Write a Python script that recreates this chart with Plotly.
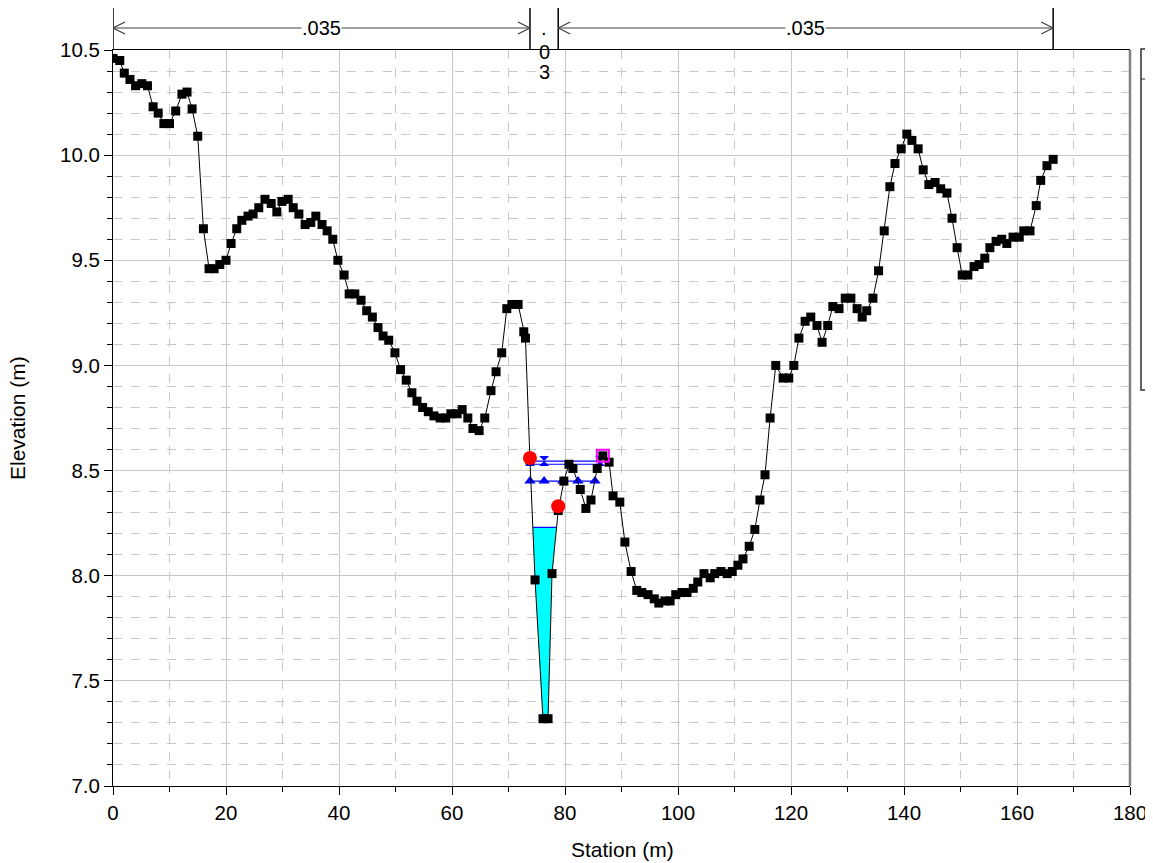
import plotly.graph_objects as go

# ---------------- data ----------------
station = [0, 1.2, 2, 3, 4, 5.1, 6.1, 7.1, 8, 9,
           10, 11.1, 12.2, 13.1, 14, 15, 16, 17, 17.9, 18.9,
           20, 20.9, 21.9, 22.8, 23.9, 24.8, 25.8, 26.9, 28, 29,
           29.9, 31, 31.9, 32.9, 34, 35, 35.9, 37, 37.9, 38.9,
           39.8, 40.9, 41.8, 42.8, 43.9, 44.9, 45.9, 46.9, 47.8, 48.8,
           49.9, 50.9, 51.9, 52.9, 53.8, 54.8, 55.8, 56.8, 57.9, 58.9,
           59.8, 60.9, 61.8, 62.8, 63.7, 64.8, 65.8, 66.9, 67.8, 68.8,
           69.7, 70.6, 71.7, 72.7, 73.0, 73.8, 74.7, 76.1, 77.0, 77.7,
           78.8, 79.8, 80.7, 81.4, 82.7, 83.7, 84.6, 85.7, 86.7, 87.8,
           88.5, 89.7, 90.6, 91.7, 92.7, 93.6, 94.7, 95.8, 96.6, 97.7,
           98.6, 99.6, 100.7, 101.6, 102.7, 103.5, 104.6, 105.7, 106.5, 107.6,
           108.7, 109.6, 110.6, 111.5, 112.6, 113.6, 114.5, 115.4, 116.3, 117.3,
           118.6, 119.6, 120.5, 121.4, 122.5, 123.5, 124.6, 125.5, 126.5, 127.4,
           128.5, 129.6, 130.6, 131.7, 132.6, 133.4, 134.5, 135.5, 136.5, 137.5,
           138.4, 139.5, 140.5, 141.4, 142.5, 143.4, 144.4, 145.5, 146.5, 147.6,
           148.5, 149.4, 150.3, 151.3, 152.4, 153.3, 154.3, 155.2, 156.3, 157.3,
           158.2, 159.3, 160.4, 161.2, 162.3, 163.4, 164.2, 165.3, 166.4]
elevation = [10.46, 10.45, 10.39, 10.36, 10.33, 10.34, 10.33, 10.23, 10.20, 10.15,
             10.15, 10.21, 10.29, 10.30, 10.22, 10.09, 9.65, 9.46, 9.46, 9.48,
             9.50, 9.58, 9.65, 9.69, 9.71, 9.72, 9.75, 9.79, 9.77, 9.73,
             9.78, 9.79, 9.75, 9.72, 9.67, 9.68, 9.71, 9.67, 9.64, 9.60,
             9.50, 9.43, 9.34, 9.34, 9.31, 9.26, 9.23, 9.18, 9.14, 9.12,
             9.06, 8.98, 8.93, 8.87, 8.83, 8.80, 8.78, 8.76, 8.75, 8.75,
             8.77, 8.77, 8.79, 8.75, 8.70, 8.69, 8.75, 8.88, 8.97, 9.06,
             9.27, 9.29, 9.29, 9.16, 9.13, 8.55, 7.98, 7.32, 7.32, 8.01,
             8.31, 8.45, 8.53, 8.51, 8.41, 8.32, 8.36, 8.51, 8.57, 8.54,
             8.38, 8.35, 8.16, 8.02, 7.93, 7.92, 7.91, 7.89, 7.87, 7.88,
             7.88, 7.91, 7.92, 7.92, 7.94, 7.97, 8.01, 7.99, 8.01, 8.02,
             8.01, 8.02, 8.05, 8.08, 8.14, 8.22, 8.36, 8.48, 8.75, 9.00,
             8.94, 8.94, 9.00, 9.13, 9.21, 9.23, 9.19, 9.11, 9.19, 9.28,
             9.27, 9.32, 9.32, 9.27, 9.23, 9.26, 9.32, 9.45, 9.64, 9.85,
             9.96, 10.03, 10.10, 10.07, 10.03, 9.93, 9.86, 9.87, 9.84, 9.82,
             9.70, 9.56, 9.43, 9.43, 9.47, 9.48, 9.51, 9.56, 9.59, 9.60,
             9.58, 9.61, 9.61, 9.64, 9.64, 9.76, 9.88, 9.95, 9.98]

bank_station = [73.8, 78.8]
bank_elev = [8.56, 8.33]
levee_station = [86.7]
levee_elev = [8.57]

ws_fill = 8.23                      # water surface filling the channel
ws_tri_station = [73.8, 76.3, 79.6, 82.3, 85.3]
ws_tri_elev = [8.45, 8.45, 8.45, 8.45, 8.45]
ws_mid_station = [73.8, 86.6]
ws_mid_elev = [8.53, 8.53]
ws_hg_station = [73.8, 76.3, 86.2]
ws_hg_elev = [8.545, 8.545, 8.545]

n_breaks = [0, 73.8, 78.8, 166.4]
n_values = [".035", ".03", ".035"]

FONT = "Liberation Sans, Arial, sans-serif"
TICK_SIZE = 20.5
TITLE_SIZE = 21

# ---------------- figure ----------------
fig = go.Figure()

iL = station.index(bank_station[0])
iR = station.index(bank_station[1])


def cross(xa, ya, xb, yb, y):
    return xa + (y - ya) * (xb - xa) / (yb - ya)


fx, fy = [], []
for i in range(iL, iR):
    xa, ya, xb, yb = station[i], elevation[i], station[i + 1], elevation[i + 1]
    if ya >= ws_fill > yb or ya < ws_fill <= yb:
        fx.append(cross(xa, ya, xb, yb, ws_fill))
        fy.append(ws_fill)
    if yb < ws_fill:
        fx.append(xb)
        fy.append(yb)
ws_left, ws_right = fx[0], fx[-1]
fx.append(fx[0])
fy.append(fy[0])

fig.add_trace(go.Scatter(x=fx, y=fy, fill="toself", fillcolor="#00ffff",
                         mode="lines", line=dict(width=0), hoverinfo="skip"))
fig.add_trace(go.Scatter(x=[ws_left, ws_right], y=[ws_fill, ws_fill], mode="lines",
                         line=dict(color="#0000ff", width=1.2)))

fig.add_trace(go.Scatter(x=ws_tri_station, y=ws_tri_elev, mode="lines+markers",
                         line=dict(color="#0000ff", width=1.2),
                         marker=dict(symbol="triangle-up", size=10, color="#0000ff")))
fig.add_trace(go.Scatter(x=ws_mid_station, y=ws_mid_elev, mode="lines",
                         line=dict(color="#0000ff", width=1.2)))
fig.add_trace(go.Scatter(x=ws_hg_station, y=ws_hg_elev, mode="lines+markers",
                         line=dict(color="#0000ff", width=1.2),
                         marker=dict(symbol="hourglass", size=10, color="#0000ff")))

fig.add_trace(go.Scatter(x=station, y=elevation, mode="lines+markers",
                         line=dict(color="black", width=1),
                         marker=dict(symbol="square", size=9, color="black")))

fig.add_trace(go.Scatter(x=bank_station, y=bank_elev, mode="markers",
                         marker=dict(symbol="circle", size=14, color="#ff0000")))
fig.add_trace(go.Scatter(x=levee_station, y=levee_elev, mode="markers",
                         marker=dict(symbol="square-open", size=12, color="#ff00ff",
                                     line=dict(width=2, color="#ff00ff"))))

# ---------------- annotations / shapes ----------------
shapes = []
annotations = []

PH = 736.0  # plot height px
PW = 1017.0


def py(px):  # absolute pixel y -> paper
    return (786 - px) / PH


def px_(x):  # absolute pixel x -> paper
    return (x - 113) / PW


y_top = py(6)
y_arrow = py(28)
for xb in n_breaks:
    shapes.append(dict(type="line", xref="x", yref="paper", x0=xb, x1=xb,
                       y0=1.0, y1=y_top, line=dict(color="black", width=1.5)))

dx = 12 / (PW / 180.0)
dy = 6 / PH
for k, val in enumerate(n_values):
    x0, x1 = n_breaks[k], n_breaks[k + 1]
    if x1 - x0 > 20:
        shapes.append(dict(type="line", xref="x", yref="paper", x0=x0, x1=x1,
                           y0=y_arrow, y1=y_arrow, line=dict(color="#808080", width=1.5)))
        for xe, sgn in ((x0, 1), (x1, -1)):
            for s in (1, -1):
                shapes.append(dict(type="line", xref="x", yref="paper",
                                   x0=xe, x1=xe + sgn * dx, y0=y_arrow,
                                   y1=y_arrow + s * dy,
                                   line=dict(color="#404040", width=1.2)))
        annotations.append(dict(x=(x0 + x1) / 2, y=y_arrow, xref="x", yref="paper",
                                text=val, showarrow=False, bgcolor="white",
                                font=dict(family=FONT, size=20, color="black"),
                                xanchor="center", yanchor="middle", borderpad=0))
    else:
        xm = (x0 + x1) / 2
        ys = [28, 52, 72]
        for c, yy in zip(list(val), ys):
            annotations.append(dict(x=xm, y=py(yy), xref="x", yref="paper",
                                    text=c, showarrow=False,
                                    font=dict(family=FONT, size=20, color="black"),
                                    xanchor="center", yanchor="middle"))

# right border grey
shapes.append(dict(type="line", xref="paper", yref="paper", x0=1, x1=1, y0=0, y1=1,
                   line=dict(color="#808080", width=2.5)))

# legend box (mostly cut off by the page edge)
lx0 = px_(1141)
shapes.append(dict(type="rect", xref="paper", yref="paper", x0=lx0, x1=1.1,
                   y0=py(390), y1=py(49), line=dict(color="#303030", width=1.5),
                   fillcolor="white"))
shapes.append(dict(type="line", xref="paper", yref="paper", x0=lx0, x1=1.1,
                   y0=py(79), y1=py(79), line=dict(color="#303030", width=1)))
leg_items = [(92, "#0000ff", "WS PF 3"), (134, "#0000ff", "WS PF 2"),
             (176, "#0000ff", "WS PF 1"), (220, "#0000ff", None),
             (262, "black", None), (305, "#ff00ff", None)]
for yy, col, txt in leg_items:
    shapes.append(dict(type="line", xref="paper", yref="paper",
                       x0=px_(1150), x1=px_(1162),
                       y0=py(yy), y1=py(yy), line=dict(color=col, width=1.5)))
    if txt:
        annotations.append(dict(x=px_(1147), y=py(yy + 13), xref="paper",
                                yref="paper", text=txt, showarrow=False,
                                xanchor="left", yanchor="middle",
                                font=dict(family=FONT, size=20, color="black")))

# axis titles
annotations.append(dict(x=px_(17), y=py(418), xref="paper", yref="paper",
                        text="Elevation (m)", textangle=-90, showarrow=False,
                        xanchor="center", yanchor="middle",
                        font=dict(family=FONT, size=TITLE_SIZE, color="black")))
annotations.append(dict(x=px_(622), y=py(849), xref="paper", yref="paper",
                        text="Station (m)", showarrow=False,
                        xanchor="center", yanchor="middle",
                        font=dict(family=FONT, size=TITLE_SIZE, color="black")))

grid_col = "#c8c8c8"
fig.update_layout(
    width=1153, height=863,
    margin=dict(l=105, r=31, t=42, b=85),
    paper_bgcolor="white", plot_bgcolor="white",
    showlegend=False,
    shapes=shapes, annotations=annotations,
    font=dict(family=FONT, size=TICK_SIZE, color="black"),
    xaxis=dict(range=[0, 180], tick0=0, dtick=20, ticks="outside", ticklen=8,
               tickcolor="black", showgrid=True, gridcolor=grid_col, gridwidth=1,
               showline=True, linecolor="black", linewidth=1, mirror=True,
               zeroline=False, tickfont=dict(family=FONT, size=TICK_SIZE),
               minor=dict(dtick=10, ticks="outside", ticklen=5, tickcolor="black",
                          showgrid=True, gridcolor=grid_col, griddash="dash")),
    yaxis=dict(range=[7, 10.5], tick0=7, dtick=0.5, tickformat=".1f",
               ticks="outside", ticklen=8, tickcolor="black",
               showgrid=True, gridcolor=grid_col, gridwidth=1,
               showline=True, linecolor="black", linewidth=1,
               zeroline=False, tickfont=dict(family=FONT, size=TICK_SIZE),
               minor=dict(dtick=0.1, ticks="outside", ticklen=5, tickcolor="black",
                          showgrid=True, gridcolor=grid_col, griddash="dash")),
)

fig.write_html("out.html")
